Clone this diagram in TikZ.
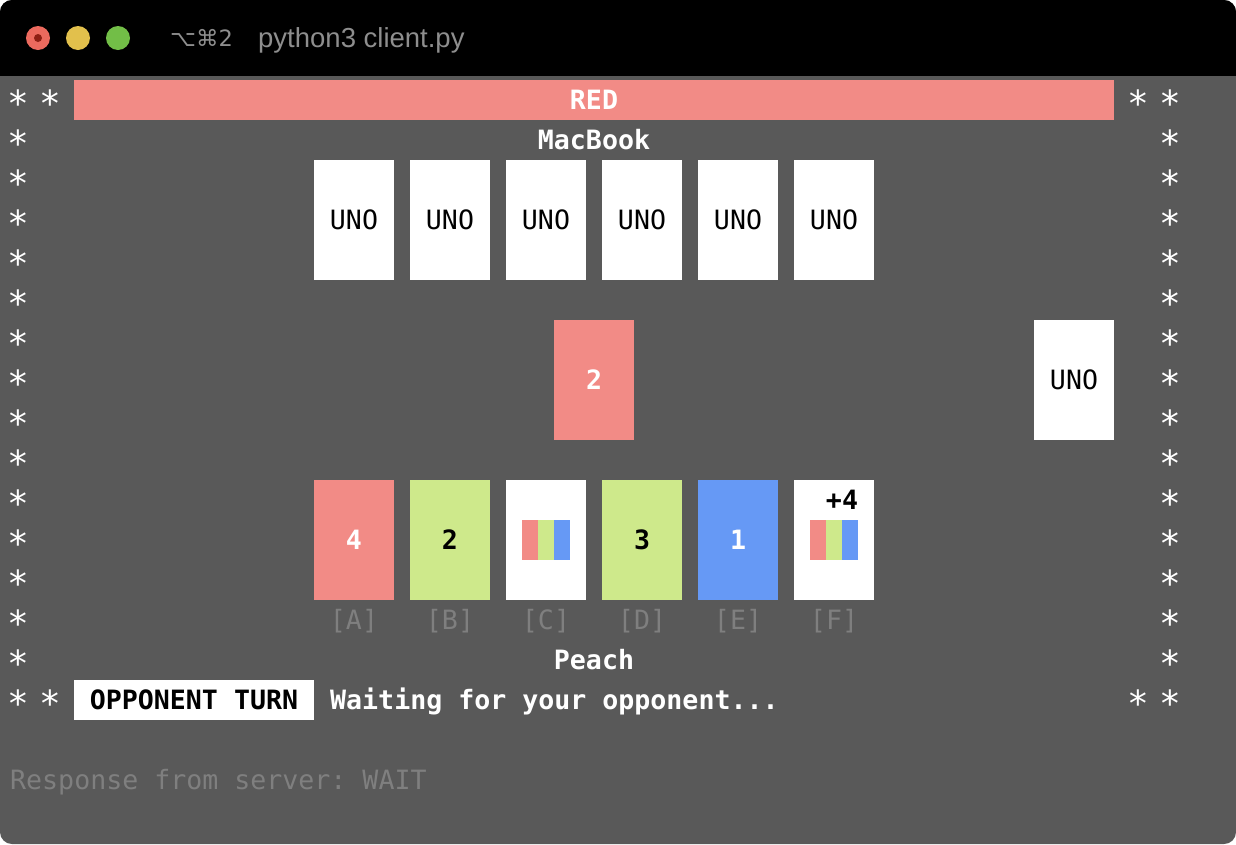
\documentclass[tikz,border=0pt]{standalone}
\usepackage{fontspec}
\setmainfont{Liberation Sans}
\newfontfamily\termfont{DejaVu Sans Mono}
\newfontfamily\symfont{DejaVu Sans}
\usetikzlibrary{positioning}

\definecolor{termbg}{HTML}{595959}
\definecolor{unored}{HTML}{F28B86}
\definecolor{unogreen}{HTML}{CEE98B}
\definecolor{unoblue}{HTML}{6699F5}
\definecolor{dimgray}{HTML}{7F7F7F}
\definecolor{titlegray}{HTML}{8E8E8E}
\definecolor{btnred}{HTML}{EC6A5E}
\definecolor{btndot}{HTML}{8E1F14}
\definecolor{btnyellow}{HTML}{E2C04C}
\definecolor{btngreen}{HTML}{72BE47}

\newcommand{\termsize}{\fontsize{26.6}{32}\selectfont}

\begin{document}
\frenchspacing
\begin{tikzpicture}[
    x=1pt, y=-1pt,
    term/.style={font=\termfont\termsize, text=white, inner sep=0pt, text height=19pt, text depth=0pt},
    termbold/.style={term, font=\termfont\termsize\bfseries},
    astk/.style={inner sep=0pt, text=white, font=\termfont\fontsize{36}{40}\selectfont, text height=32pt, text depth=0pt},
    card/.style={rectangle, fill=white, minimum width=80pt, minimum height=120pt, inner sep=0pt},
    stripe/.style={rectangle, minimum width=16pt, minimum height=40pt, inner sep=0pt, anchor=west},
    button/.style={circle, minimum size=24pt, inner sep=0pt}
]

% Window
\fill[white] (0,0) rectangle (1236,844);
\fill[termbg, rounded corners=12pt] (0,0) rectangle (1236,844);
\fill[black, rounded corners=12pt] (0,0) rectangle (1236,100);
\fill[termbg] (0,76) rectangle (1236,120);

% Title bar
\node[button, fill=btnred] (close) at (38,38) {};
\node[circle, fill=btndot, minimum size=8pt, inner sep=0pt] (closedot) at (close) {};
\node[button, fill=btnyellow] (minimize) at (78,38) {};
\node[button, fill=btngreen] (zoom) at (118,38) {};
\node[anchor=west, inner sep=0pt, text=titlegray, font=\symfont\fontsize{22.5}{28}\selectfont, text height=17pt, text depth=0pt] (keys) at (170,38) {⌥⌘2};
\node[anchor=west, inner sep=0pt, text=titlegray, font=\fontsize{27.5}{32}\selectfont, text height=19pt, text depth=0pt] (title) at (258,38) {python3 client.py};

% Border of stars
\foreach \r in {0,...,15} {
    \node[astk] (sl\r) at (18,{100+40*\r}) {*};
    \node[astk] (sr\r) at (1170,{100+40*\r}) {*};
}
\node[astk] (sltop) at (50,100) {*};
\node[astk] (srtop) at (1138,100) {*};
\node[astk] (slbot) at (50,700) {*};
\node[astk] (srbot) at (1138,700) {*};

% Colour bar and players
\node[termbold, fill=unored, minimum width=1040pt, minimum height=40pt] (colorbar) at (594,100) {RED};
\node[termbold] (opponent) at (594,140) {MacBook};
\node[termbold] (player) at (594,660) {Peach};

% Opponent hand
\foreach \i in {1,...,6} {
    \node[card, term, text=black] (opp\i) at ({258+96*\i},220) {UNO};
}

% Pile and deck
\node[card, termbold, fill=unored] (pile) at (594,380) {2};
\node[card, term, text=black] (deck) at (1074,380) {UNO};

% Own hand
\foreach \i/\lbl/\col/\txt/\tcol in {1/A/unored/4/white, 2/B/unogreen/2/black, 3/C/white//black, 4/D/unogreen/3/black, 5/E/unoblue/1/white, 6/F/white//black} {
    \node[card, termbold, fill=\col, text=\tcol] (hand\i) at ({258+96*\i},540) {\txt};
    \node[term, text=dimgray] (key\i) at ({258+96*\i},620) {[\lbl]};
}
\foreach \c/\n in {unored/1, unogreen/2, unoblue/3} {
    \node[stripe, fill=\c] (wildC\n) at ({506+16*\n},540) {};
    \node[stripe, fill=\c] (wildF\n) at ({794+16*\n},540) {};
}
\node[termbold, text=black] (plusfour) at (842,500) {+4};

% Status line
\node[termbold, text=black, fill=white, minimum width=240pt, minimum height=40pt] (turn) at (194,700) {OPPONENT TURN};
\node[termbold, anchor=west] (status) at (330,700) {Waiting for your opponent...};
\node[term, text=dimgray, anchor=west] (response) at (10,780) {Response from server: WAIT};

\end{tikzpicture}
\end{document}
